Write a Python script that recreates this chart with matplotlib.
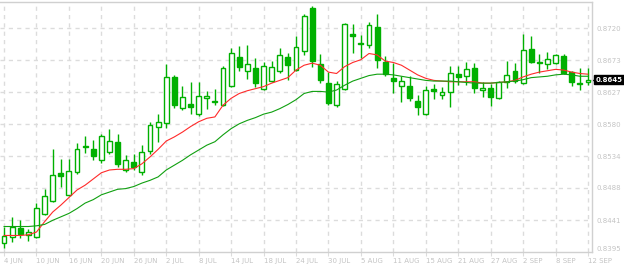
import matplotlib
matplotlib.use("Agg")
import matplotlib.pyplot as plt
import numpy as np

# daily candles
opens = [0.8408, 0.8417, 0.8430, 0.8420, 0.8417, 0.8450, 0.8469, 0.8509, 0.8478, 0.8511,
         0.8548, 0.8544, 0.8528, 0.8540, 0.8555, 0.8514, 0.8526, 0.8511, 0.8541, 0.8576,
         0.8582, 0.8649, 0.8604, 0.8610, 0.8595, 0.8618, 0.8613, 0.8608, 0.8636, 0.8678,
         0.8657, 0.8662, 0.8631, 0.8643, 0.8657, 0.8678, 0.8659, 0.8686, 0.8749, 0.8668,
         0.8640, 0.8608, 0.8631, 0.8711, 0.8698, 0.8695, 0.8721, 0.8671, 0.8647, 0.8636,
         0.8636, 0.8614, 0.8595, 0.8631, 0.8623, 0.8627, 0.8653, 0.8650, 0.8662, 0.8630,
         0.8633, 0.8618, 0.8642, 0.8657, 0.8640, 0.8689, 0.8671, 0.8668, 0.8669, 0.8679,
         0.8656, 0.8640, 0.8642]
highs = [0.8431, 0.8446, 0.8441, 0.8428, 0.8466, 0.8486, 0.8544, 0.8530, 0.8530, 0.8553,
         0.8563, 0.8557, 0.8566, 0.8573, 0.8566, 0.8536, 0.8537, 0.8550, 0.8584, 0.8595,
         0.8668, 0.8652, 0.8636, 0.8642, 0.8642, 0.8628, 0.8631, 0.8665, 0.8691, 0.8694,
         0.8695, 0.8676, 0.8671, 0.8672, 0.8691, 0.8684, 0.8708, 0.8740, 0.8752, 0.8682,
         0.8656, 0.8643, 0.8727, 0.8726, 0.8710, 0.8729, 0.8740, 0.8679, 0.8669, 0.8650,
         0.8650, 0.8623, 0.8636, 0.8639, 0.8634, 0.8665, 0.8665, 0.8671, 0.8669, 0.8642,
         0.8639, 0.8643, 0.8672, 0.8669, 0.8711, 0.8708, 0.8682, 0.8685, 0.8682, 0.8682,
         0.8657, 0.8662, 0.8662]
lows = [0.8401, 0.8410, 0.8415, 0.8411, 0.8415, 0.8449, 0.8468, 0.8489, 0.8476, 0.8508,
        0.8539, 0.8528, 0.8524, 0.8537, 0.8518, 0.8511, 0.8514, 0.8507, 0.8537, 0.8555,
        0.8575, 0.8604, 0.8601, 0.8595, 0.8592, 0.8602, 0.8608, 0.8607, 0.8635, 0.8657,
        0.8646, 0.8634, 0.8630, 0.8642, 0.8655, 0.8644, 0.8658, 0.8681, 0.8663, 0.8640,
        0.8609, 0.8605, 0.8630, 0.8684, 0.8676, 0.8691, 0.8662, 0.8650, 0.8626, 0.8613,
        0.8614, 0.8594, 0.8594, 0.8617, 0.8617, 0.8605, 0.8637, 0.8637, 0.8626, 0.8620,
        0.8607, 0.8617, 0.8633, 0.8640, 0.8639, 0.8669, 0.8655, 0.8660, 0.8668, 0.8653,
        0.8636, 0.8630, 0.8637]
closes = [0.8418, 0.8431, 0.8421, 0.8424, 0.8459, 0.8476, 0.8507, 0.8506, 0.8512, 0.8544,
          0.8549, 0.8534, 0.8563, 0.8556, 0.8523, 0.8528, 0.8518, 0.8540, 0.8579, 0.8584,
          0.8649, 0.8608, 0.8620, 0.8605, 0.8621, 0.8621, 0.8614, 0.8662, 0.8684, 0.8663,
          0.8668, 0.8640, 0.8665, 0.8663, 0.8681, 0.8666, 0.8692, 0.8737, 0.8672, 0.8644,
          0.8611, 0.8639, 0.8726, 0.8708, 0.8697, 0.8724, 0.8673, 0.8653, 0.8643, 0.8643,
          0.8618, 0.8605, 0.8630, 0.8629, 0.8627, 0.8655, 0.8649, 0.8660, 0.8633, 0.8633,
          0.8620, 0.8642, 0.8652, 0.8643, 0.8688, 0.8671, 0.8669, 0.8675, 0.8681, 0.8655,
          0.8642, 0.8639, 0.8645]

# the two moving averages as drawn on the chart
ma_fast = [0.8419, 0.8419, 0.8419, 0.8420, 0.8424, 0.8439, 0.8453, 0.8463, 0.8474, 0.8485,
           0.8492, 0.8501, 0.8510, 0.8514, 0.8515, 0.8515, 0.8516, 0.8523, 0.8533, 0.8544,
           0.8556, 0.8562, 0.8569, 0.8577, 0.8584, 0.8589, 0.8591, 0.8608, 0.8618, 0.8625,
           0.8629, 0.8632, 0.8635, 0.8640, 0.8644, 0.8648, 0.8659, 0.8666, 0.8669, 0.8666,
           0.8656, 0.8654, 0.8664, 0.8670, 0.8674, 0.8683, 0.8681, 0.8672, 0.8670, 0.8666,
           0.8659, 0.8652, 0.8647, 0.8644, 0.8643, 0.8642, 0.8642, 0.8642, 0.8642, 0.8640,
           0.8640, 0.8641, 0.8642, 0.8644, 0.8649, 0.8653, 0.8656, 0.8658, 0.8660, 0.8659,
           0.8656, 0.8654, 0.8653]
ma_slow = [0.8432, 0.8432, 0.8432, 0.8432, 0.8433, 0.8435, 0.8441, 0.8446, 0.8451, 0.8458,
           0.8466, 0.8471, 0.8478, 0.8482, 0.8486, 0.8487, 0.8490, 0.8495, 0.8499, 0.8504,
           0.8514, 0.8521, 0.8528, 0.8536, 0.8543, 0.8550, 0.8555, 0.8565, 0.8574, 0.8581,
           0.8586, 0.8590, 0.8595, 0.8598, 0.8603, 0.8609, 0.8616, 0.8625, 0.8628, 0.8628,
           0.8627, 0.8630, 0.8637, 0.8643, 0.8647, 0.8651, 0.8653, 0.8653, 0.8652, 0.8650,
           0.8648, 0.8646, 0.8644, 0.8643, 0.8643, 0.8643, 0.8642, 0.8641, 0.8640, 0.8640,
           0.8640, 0.8641, 0.8642, 0.8643, 0.8645, 0.8648, 0.8649, 0.8650, 0.8652, 0.8653,
           0.8652, 0.8650, 0.8650]

date_labels = ["4 JUN", "10 JUN", "16 JUN", "20 JUN", "26 JUN", "2 JUL", "8 JUL", "14 JUL",
               "18 JUL", "24 JUL", "30 JUL", "5 AUG", "11 AUG", "15 AUG", "21 AUG", "27 AUG",
               "2 SEP", "8 SEP", "12 SEP"]
price_ticks = [0.8395, 0.8441, 0.8488, 0.8534, 0.8580, 0.8627, 0.8673, 0.8720]
last_price = 0.8645

green = "#00b000"
grid_col = "#dcdcdc"
text_col = "#c4c4c4"

o = np.array(opens)
c = np.array(closes)
x = np.arange(len(o))

fig = plt.figure(figsize=(6.24, 2.66), dpi=100)
ax = fig.add_axes([0.0, 0.0526, 592 / 624, 250 / 266])

step = (0.8720 - 0.8395) / 7
ax.set_xlim(-0.5, len(o) - 0.5)
ax.set_ylim(0.8395, 0.8395 + step * 250 / 32)

# grid
for i in range(0, len(o), 4):
    ax.axvline(i, color=grid_col, lw=1, ls=(0, (3, 3)), zorder=0)
for k in range(1, 8):
    ax.axhline(0.8395 + step * k, color=grid_col, lw=1, ls=(0, (3, 3)), zorder=0)

# candles
ax.vlines(x, lows, highs, color=green, lw=1.0, zorder=2)
bull = c >= o
body_h = np.maximum(np.abs(c - o), 0.00002)
ax.bar(x[bull], body_h[bull], bottom=np.minimum(o, c)[bull], width=0.6,
       facecolor="white", edgecolor=green, linewidth=1.0, zorder=3)
ax.bar(x[~bull], body_h[~bull], bottom=np.minimum(o, c)[~bull], width=0.6,
       facecolor=green, edgecolor=green, linewidth=1.0, zorder=3)

# moving averages
ax.plot(x, ma_fast, color="#ff2a2a", lw=0.8, zorder=4)
ax.plot(x, ma_slow, color="#10a010", lw=0.8, zorder=4)

# axes styling
ax.spines["left"].set_visible(False)
for s in ["right", "top", "bottom"]:
    ax.spines[s].set_color("#d0d0d0")
    ax.spines[s].set_linewidth(1)

ax.yaxis.tick_right()
ax.set_yticks(price_ticks)
ax.set_yticklabels(["%.4f" % p for p in price_ticks], fontsize=5, color=text_col)
ax.tick_params(axis="y", length=0, pad=3)
labs = ax.get_yticklabels()
labs[0].set_verticalalignment("bottom")

ax.set_xticks(range(0, len(o), 4))
ax.set_xticklabels(date_labels, fontsize=5, color=text_col, ha="left")
ax.tick_params(axis="x", length=3, color=grid_col, pad=1)

# current price marker
ax.annotate("%.4f" % last_price, xy=(1.0, last_price), xycoords=("axes fraction", "data"),
            xytext=(2.5, 0), textcoords="offset points", ha="left", va="center",
            fontsize=5, color="white", fontweight="bold",
            bbox=dict(boxstyle="square,pad=0.2", fc="black", ec="black"),
            annotation_clip=False)
ax.plot([1.0, 1.005], [last_price, last_price], color="black", lw=1,
        transform=ax.get_yaxis_transform(), clip_on=False)

fig.savefig("out.png", dpi=100)
